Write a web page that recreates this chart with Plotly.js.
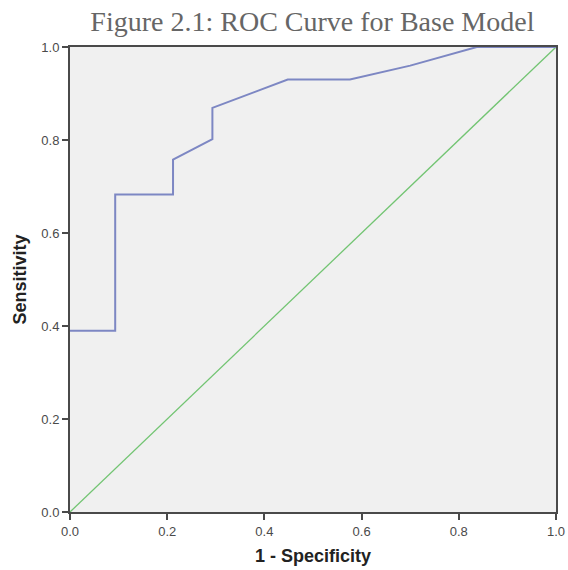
<!DOCTYPE html>
<html>
<head>
<meta charset="utf-8">
<script src="https://cdn.plot.ly/plotly-3.0.1.min.js"></script>
<style>html,body{margin:0;padding:0;background:#fff;}#chart{width:568px;height:570px;}</style>
</head>
<body>
<div id="chart"></div>
<script>
const fpr = [0, 0.093, 0.093, 0.212, 0.212, 0.293, 0.293, 0.448, 0.576, 0.70, 0.837, 1.0];
const tpr = [0.39, 0.39, 0.683, 0.683, 0.758, 0.802, 0.869, 0.93, 0.93, 0.96, 1.0, 1.0];
const refX = [0, 1];
const refY = [0, 1];
const tickVals = [0, 0.2, 0.4, 0.6, 0.8, 1.0];
const tickText = ["0.0", "0.2", "0.4", "0.6", "0.8", "1.0"];

const traces = [
  {x: refX, y: refY, mode: 'lines', line: {color: '#72c472', width: 1.3}, hoverinfo: 'skip', name: 'Reference'},
  {x: fpr, y: tpr, mode: 'lines', line: {color: '#7d87c3', width: 2}, name: 'ROC'}
];

const axisCommon = {
  range: [0, 1],
  tickvals: tickVals,
  ticktext: tickText,
  showgrid: false,
  zeroline: false,
  showline: true,
  linecolor: '#4a4a4a',
  linewidth: 2,
  mirror: true,
  layer: 'above traces',
  ticks: 'outside',
  ticklen: 6,
  tickwidth: 2,
  tickcolor: '#4a4a4a',
  tickfont: {family: 'Liberation Sans, Arial, sans-serif', size: 13, color: '#4a4a4a'}
};

const layout = {
  width: 568,
  height: 570,
  margin: {l: 70, r: 12, t: 47, b: 58},
  paper_bgcolor: '#ffffff',
  plot_bgcolor: '#f0f0f0',
  showlegend: false,
  title: {
    text: 'Figure 2.1: ROC Curve for Base Model',
    font: {family: 'Liberation Serif, Times New Roman, serif', size: 28, color: '#666666'},
    x: 0.55, xanchor: 'center', y: 0.962, yanchor: 'middle'
  },
  xaxis: Object.assign({}, axisCommon, {
    title: {text: '1 - Specificity', font: {family: 'Liberation Sans, Arial, sans-serif', size: 18, color: '#222', weight: 'bold'}, standoff: 12}
  }),
  yaxis: Object.assign({}, axisCommon, {
    title: {text: 'Sensitivity', font: {family: 'Liberation Sans, Arial, sans-serif', size: 18, color: '#222', weight: 'bold'}, standoff: 10}
  })
};

Plotly.newPlot('chart', traces, layout, {displayModeBar: false, staticPlot: true});
</script>
</body>
</html>
